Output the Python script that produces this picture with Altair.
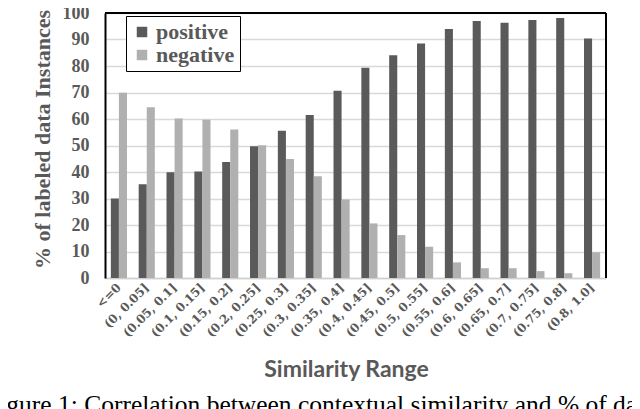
import altair as alt
import pandas as pd

categories = ["<=0", "(0, 0.05]", "(0.05, 0.1]", "(0.1, 0.15]", "(0.15, 0.2]", "(0.2, 0.25]",
              "(0.25, 0.3]", "(0.3, 0.35]", "(0.35, 0.4]", "(0.4, 0.45]", "(0.45, 0.5]",
              "(0.5, 0.55]", "(0.55, 0.6]", "(0.6, 0.65]", "(0.65, 0.7]", "(0.7, 0.75]",
              "(0.75, 0.8]", "(0.8, 1.0]"]
positive = [30, 35.4, 39.9, 40.2, 43.8, 49.7, 55.6, 61.5, 70.7, 79.3, 84.1, 88.5, 94, 97, 96.3, 97.4, 98.1, 90.4]
negative = [69.9, 64.4, 60.2, 59.7, 56, 50.1, 44.9, 38.4, 29.6, 20.6, 16.2, 11.8, 5.9, 3.7, 3.7, 2.6, 1.8, 9.7]
series = ["positive", "negative"]
y_ticks = list(range(0, 101, 10))
caption = "Figure 1: Correlation between contextual similarity and % of data"

rows = []
for c, p, n in zip(categories, positive, negative):
    rows.append({"range": c, "series": "positive", "value": p})
    rows.append({"range": c, "series": "negative", "value": n})
df = pd.DataFrame(rows)

W, H = 501, 265
SERIF = "Liberation Serif"

bars = alt.Chart(df).mark_bar().encode(
    x=alt.X("range:N", sort=categories,
            scale=alt.Scale(paddingInner=0.42, paddingOuter=0.21),
            axis=alt.Axis(title="Similarity Range", labelAngle=-45, ticks=False,
                          labelAlign="right", labelBaseline="middle", labelPadding=7,
                          labelFont="DejaVu Serif", labelFontWeight="bold", labelFontSize=12,
                          labelColor="#595959", domainColor="#d0d0d0", domainWidth=1.5,
                          titleFont="Lato", titleFontSize=23, titleFontWeight="bold",
                          titleColor="#595959", titleX=241, titleY=91,
                          titleBaseline="middle", titleAlign="center")),
    xOffset=alt.XOffset("series:N", sort=series),
    y=alt.Y("value:Q", scale=alt.Scale(domain=[0, 100], nice=False),
            axis=alt.Axis(title="% of labeled data  Instances", values=y_ticks, ticks=False,
                          labelFont=SERIF, labelFontWeight="bold", labelFontSize=18,
                          labelColor="#595959", labelPadding=16,
                          domainColor="black", domainWidth=2,
                          gridColor="#d9d9d9", gridWidth=1.5,
                          titleFont=SERIF, titleFontSize=22, titleFontWeight="bold",
                          titleColor="#595959", titleX=-63, titleY=126,
                          titleAlign="center", titleBaseline="middle")),
    color=alt.Color("series:N", sort=series,
                    scale=alt.Scale(domain=series, range=["#5a5a5a", "#b0b0b0"]),
                    legend=alt.Legend(title=None, orient="none", legendX=21, legendY=3,
                                      symbolType="square", symbolSize=110,
                                      labelFont=SERIF, labelFontWeight="bold",
                                      labelFontSize=22, labelColor="#595959",
                                      rowPadding=1, padding=5, strokeColor="black",
                                      fillColor="white", labelOffset=3)),
)

frame_df = pd.DataFrame({"k": [0]})
top_rule = alt.Chart(frame_df).mark_rule(color="black", strokeWidth=2).encode(
    x=alt.value(0), x2=alt.value(W), y=alt.value(0))
right_rule = alt.Chart(frame_df).mark_rule(color="black", strokeWidth=2).encode(
    x=alt.value(W), y=alt.value(0), y2=alt.value(H))
cap = alt.Chart(frame_df).mark_text(align="left", baseline="alphabetic", font=SERIF,
                                    fontSize=25.5, color="black", text=caption).encode(
    x=alt.value(-120), y=alt.value(400))

chart = alt.layer(bars, top_rule, right_rule, cap).properties(
    width=W, height=H,
    autosize=alt.AutoSizeParams(type="none"),
    padding={"left": 97, "top": 5, "right": 26, "bottom": 135},
).configure_view(stroke=None)

chart.save("out.html", embed_options={"renderer": "svg", "actions": False})
